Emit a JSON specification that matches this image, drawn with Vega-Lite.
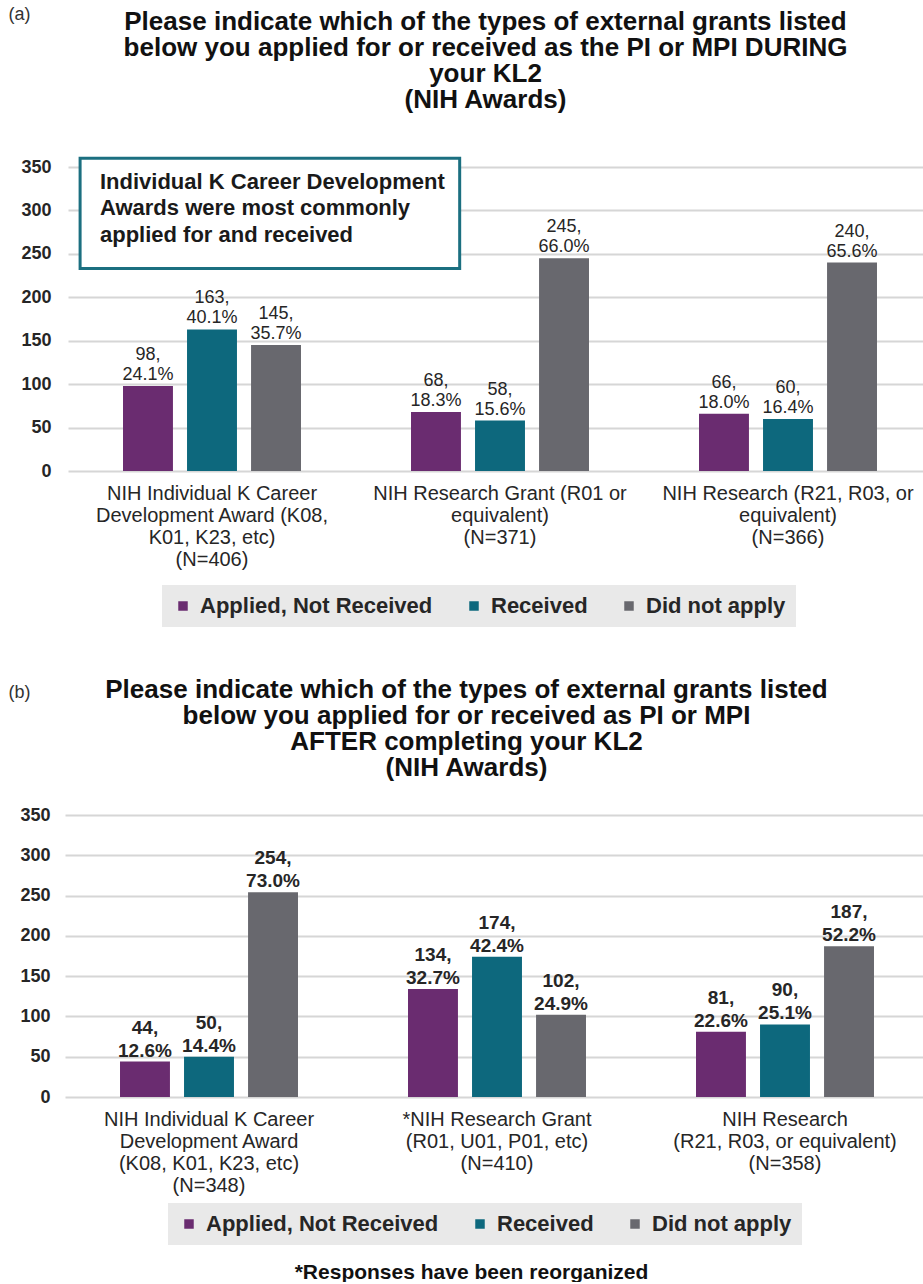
{
  "$schema": "https://vega.github.io/schema/vega-lite/v6.json",
  "background": "white",
  "padding": {"top": 5, "left": 8, "right": 0, "bottom": 0},
  "config": {
    "view": {"stroke": null},
    "font": "Liberation Sans",
    "axis": {"labelFont": "Liberation Sans", "titleFont": "Liberation Sans"},
    "legend": {"labelFont": "Liberation Sans"}
  },
  "columns": 1,
  "align": "all",
  "center": false,
  "spacing": 43,
  "resolve": {"scale": {"color": "independent"}, "legend": {"color": "independent"}},
  "concat": [
    {
      "width": 855,
      "height": 304,
      "title": {
        "text": ["Please indicate which of the types of external grants listed", "below you applied for or received as the PI or MPI DURING", "your KL2", "(NIH Awards)"],
        "font": "Liberation Sans", "fontSize": 26, "fontWeight": "bold", "lineHeight": 26,
        "color": "#111111", "anchor": "middle", "frame": "group", "offset": -108, "dx": -10
      },
      "layer": [
        {
          "data": {"values": [
            {"grant": "NIH Individual K Career|Development Award (K08,|K01, K23, etc)|(N=406)", "status": "Applied, Not Received", "count": 98, "label": "98,\n24.1%"},
            {"grant": "NIH Individual K Career|Development Award (K08,|K01, K23, etc)|(N=406)", "status": "Received", "count": 163, "label": "163,\n40.1%"},
            {"grant": "NIH Individual K Career|Development Award (K08,|K01, K23, etc)|(N=406)", "status": "Did not apply", "count": 145, "label": "145,\n35.7%"},
            {"grant": "NIH Research Grant (R01 or|equivalent)|(N=371)", "status": "Applied, Not Received", "count": 68, "label": "68,\n18.3%"},
            {"grant": "NIH Research Grant (R01 or|equivalent)|(N=371)", "status": "Received", "count": 58, "label": "58,\n15.6%"},
            {"grant": "NIH Research Grant (R01 or|equivalent)|(N=371)", "status": "Did not apply", "count": 245, "label": "245,\n66.0%"},
            {"grant": "NIH Research (R21, R03, or|equivalent)|(N=366)", "status": "Applied, Not Received", "count": 66, "label": "66,\n18.0%"},
            {"grant": "NIH Research (R21, R03, or|equivalent)|(N=366)", "status": "Received", "count": 60, "label": "60,\n16.4%"},
            {"grant": "NIH Research (R21, R03, or|equivalent)|(N=366)", "status": "Did not apply", "count": 240, "label": "240,\n65.6%"}
          ]},
          "encoding": {
            "x": {
              "field": "grant", "type": "nominal", "sort": null,
              "scale": {"range": [0, 864], "paddingInner": 0.382, "paddingOuter": 0.191},
              "axis": {
                "title": null, "labelAngle": 0, "labelExpr": "split(datum.label, '|')",
                "labelFontSize": 20, "labelLineHeight": 22, "labelColor": "#262626",
                "labelPadding": 12, "labelLimit": 400, "domain": false, "ticks": false, "grid": false
              }
            },
            "xOffset": {
              "field": "status", "type": "nominal",
              "sort": ["Applied, Not Received", "Received", "Did not apply"],
              "scale": {"paddingInner": 0.22, "paddingOuter": 0}
            },
            "y": {
              "field": "count", "type": "quantitative", "title": "(a)",
              "scale": {"domain": [0, 350], "nice": false},
              "axis": {
                "values": [0, 50, 100, 150, 200, 250, 300, 350],
                "domain": false, "ticks": false, "grid": true,
                "gridColor": "#d6d6d6", "gridWidth": 2,
                "labelFontSize": 18, "labelFontWeight": "bold", "labelColor": "#262626", "labelPadding": 17,
                "titleAngle": 0, "titleAlign": "left", "titleBaseline": "top",
                "titleX": -60, "titleY": -162, "titleFontSize": 18, "titleFontWeight": "normal", "titleColor": "#333333"
              }
            }
          },
          "layer": [
            {
              "mark": {"type": "bar"},
              "encoding": {
                "color": {
                  "field": "status", "type": "nominal",
                  "sort": ["Applied, Not Received", "Received", "Did not apply"],
                  "scale": {"domain": ["Applied, Not Received", "Received", "Did not apply"], "range": ["#6A2C70", "#0D687D", "#68686E"]},
                  "legend": {
                    "orient": "none", "legendX": 94, "legendY": 418, "direction": "horizontal",
                    "title": null, "fillColor": "#e9e9e9", "padding": 10,
                    "symbolType": "square", "symbolSize": 90, "symbolStrokeWidth": 0,
                    "labelFontSize": 22, "labelFontWeight": "bold", "labelColor": "#262626",
                    "columnPadding": 30, "labelOffset": 6, "labelLimit": 400
                  }
                }
              }
            },
            {
              "mark": {"type": "text", "baseline": "bottom", "dy": -22, "lineBreak": "\n", "fontSize": 18, "lineHeight": 20, "color": "#262626"},
              "encoding": {
                "text": {"field": "label", "type": "nominal"}
              }
            }
          ]
        },
        {
          "data": {"values": [
            {"x1": 0.042, "x2": 1.36, "y1": 233, "y2": 360, "tx": 0.111, "ty": 333, "note": "Individual K Career Development\nAwards were most commonly\napplied for and received"}
          ]},
          "encoding": {
            "x": {"field": "x1", "type": "quantitative", "scale": {"domain": [0, 3], "range": [0, 864]}, "axis": null},
            "y": {"field": "y1", "type": "quantitative", "title": "(a)", "scale": {"domain": [0, 350], "nice": false}}
          },
          "layer": [
            {
              "mark": {"type": "rect", "fill": "white", "stroke": "#1B6F80", "strokeWidth": 3},
              "encoding": {"x2": {"field": "x2"}, "y2": {"field": "y2"}}
            },
            {
              "mark": {"type": "text", "align": "left", "baseline": "middle", "lineBreak": "\n", "fontSize": 22, "fontWeight": "bold", "lineHeight": 26.5, "color": "#1a1a1a"},
              "encoding": {
                "x": {"field": "tx", "type": "quantitative", "scale": {"domain": [0, 3], "range": [0, 864]}, "axis": null},
                "y": {"field": "ty", "type": "quantitative", "title": "(a)", "scale": {"domain": [0, 350], "nice": false}},
                "text": {"field": "note", "type": "nominal"}
              }
            }
          ]
        }
      ],
      "resolve": {"scale": {"x": "independent"}, "axis": {"x": "independent"}}
    },
    {
      "width": 855,
      "height": 282,
      "title": {
        "text": ["Please indicate which of the types of external grants listed", "below you applied for or received as PI or MPI", "AFTER completing your KL2", "(NIH Awards)"],
        "font": "Liberation Sans", "fontSize": 26, "fontWeight": "bold", "lineHeight": 26,
        "color": "#111111", "anchor": "middle", "frame": "group", "offset": -98, "dx": -29
      },
      "data": {"values": [
        {"grant": "NIH Individual K Career|Development Award|(K08, K01, K23, etc)|(N=348)", "status": "Applied, Not Received", "count": 44, "label": "44,\n12.6%"},
        {"grant": "NIH Individual K Career|Development Award|(K08, K01, K23, etc)|(N=348)", "status": "Received", "count": 50, "label": "50,\n14.4%"},
        {"grant": "NIH Individual K Career|Development Award|(K08, K01, K23, etc)|(N=348)", "status": "Did not apply", "count": 254, "label": "254,\n73.0%"},
        {"grant": "*NIH Research Grant|(R01, U01, P01, etc)|(N=410)", "status": "Applied, Not Received", "count": 134, "label": "134,\n32.7%"},
        {"grant": "*NIH Research Grant|(R01, U01, P01, etc)|(N=410)", "status": "Received", "count": 174, "label": "174,\n42.4%"},
        {"grant": "*NIH Research Grant|(R01, U01, P01, etc)|(N=410)", "status": "Did not apply", "count": 102, "label": "102,\n24.9%"},
        {"grant": "NIH Research|(R21, R03, or equivalent)|(N=358)", "status": "Applied, Not Received", "count": 81, "label": "81,\n22.6%"},
        {"grant": "NIH Research|(R21, R03, or equivalent)|(N=358)", "status": "Received", "count": 90, "label": "90,\n25.1%"},
        {"grant": "NIH Research|(R21, R03, or equivalent)|(N=358)", "status": "Did not apply", "count": 187, "label": "187,\n52.2%"}
      ]},
      "encoding": {
        "x": {
          "field": "grant", "type": "nominal", "sort": null,
          "scale": {"range": [-3, 861], "paddingInner": 0.382, "paddingOuter": 0.191},
          "axis": {
            "title": "*Responses have been reorganized", "labelAngle": 0, "labelExpr": "split(datum.label, '|')",
            "labelFontSize": 20, "labelLineHeight": 22, "labelColor": "#262626",
            "labelPadding": 12, "labelLimit": 400, "domain": false, "ticks": false, "grid": false,
            "titleFontSize": 21, "titleFontWeight": "bold", "titleColor": "#111111",
            "titleX": 403, "titleY": 175, "titleAlign": "center", "titleBaseline": "middle"
          }
        },
        "xOffset": {
          "field": "status", "type": "nominal",
          "sort": ["Applied, Not Received", "Received", "Did not apply"],
          "scale": {"paddingInner": 0.22, "paddingOuter": 0}
        },
        "y": {
          "field": "count", "type": "quantitative", "title": "(b)",
          "scale": {"domain": [0, 350], "nice": false},
          "axis": {
            "values": [0, 50, 100, 150, 200, 250, 300, 350],
            "domain": false, "ticks": false, "grid": true,
            "gridColor": "#d6d6d6", "gridWidth": 2,
            "labelFontSize": 18, "labelFontWeight": "bold", "labelColor": "#262626", "labelPadding": 18,
            "titleAngle": 0, "titleAlign": "left", "titleBaseline": "top",
            "titleX": -60, "titleY": -132, "titleFontSize": 18, "titleFontWeight": "normal", "titleColor": "#333333"
          }
        }
      },
      "layer": [
        {
          "mark": {"type": "bar"},
          "encoding": {
            "color": {
              "field": "status", "type": "nominal",
              "sort": ["Applied, Not Received", "Received", "Did not apply"],
              "scale": {"domain": ["Applied, Not Received", "Received", "Did not apply"], "range": ["#6A2C70", "#0D687D", "#68686E"]},
              "legend": {
                "orient": "none", "legendX": 100, "legendY": 388, "direction": "horizontal",
                "title": null, "fillColor": "#e9e9e9", "padding": 10,
                "symbolType": "square", "symbolSize": 90, "symbolStrokeWidth": 0,
                "labelFontSize": 22, "labelFontWeight": "bold", "labelColor": "#262626",
                "columnPadding": 30, "labelOffset": 6, "labelLimit": 400
              }
            }
          }
        },
        {
          "mark": {"type": "text", "baseline": "bottom", "dy": -24, "lineBreak": "\n", "fontSize": 19, "fontWeight": "bold", "lineHeight": 23, "color": "#262626"},
          "encoding": {
            "text": {"field": "label", "type": "nominal"}
          }
        }
      ]
    }
  ]
}
